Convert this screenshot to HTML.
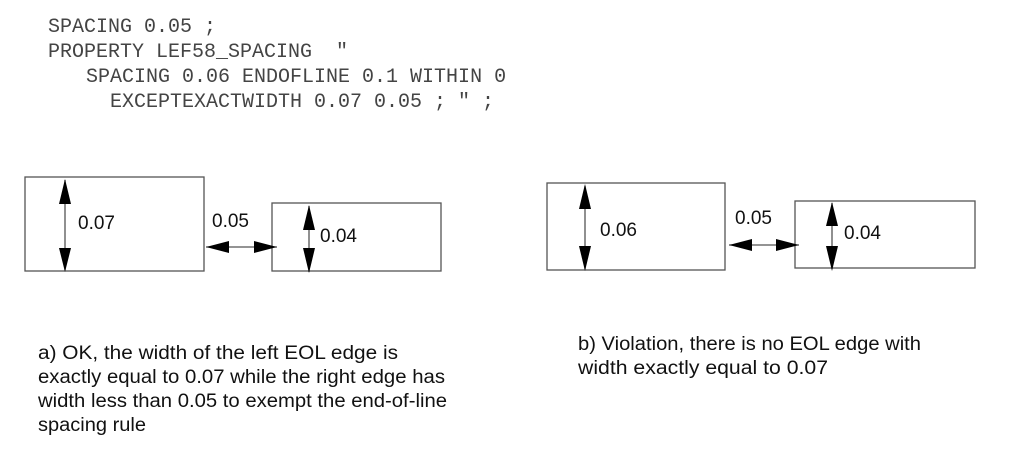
<!DOCTYPE html>
<html><head><style>body{margin:0;background:#fff}svg{display:block}</style></head>
<body>
<svg width="1013" height="470" xmlns="http://www.w3.org/2000/svg">
<g font-family="Liberation Mono, monospace" font-size="20" fill="#444">
<text x="48" y="32" xml:space="preserve">SPACING 0.05 ;</text>
<text x="48" y="57" xml:space="preserve">PROPERTY LEF58_SPACING  "</text>
<text x="86" y="82" xml:space="preserve">SPACING 0.06 ENDOFLINE 0.1 WITHIN 0</text>
<text x="110" y="107" xml:space="preserve">EXCEPTEXACTWIDTH 0.07 0.05 ; " ;</text>
</g>
<g fill="none" stroke="#555" stroke-width="1.3">
<rect x="25" y="177" width="179" height="94"/>
<rect x="272" y="203" width="169" height="68"/>
<rect x="547" y="183" width="178" height="87"/>
<rect x="795" y="201" width="180" height="67"/>
</g>
<g stroke="#555" stroke-width="1.3">
<line x1="65" y1="180" x2="65" y2="270"/>
<line x1="206" y1="247" x2="277" y2="247"/>
<line x1="309" y1="206" x2="309" y2="272"/>
<line x1="585" y1="186" x2="585" y2="269"/>
<line x1="729" y1="245" x2="799" y2="245"/>
<line x1="832" y1="203" x2="832" y2="269"/>
</g>
<g fill="#000">
<path d="M59,204L65,179L71,204z"/><path d="M59,248L65,272L71,248z"/>
<path d="M206,247L229,241L229,253z"/><path d="M277,247L254,241L254,253z"/>
<path d="M303,230L309,205L315,230z"/><path d="M303,248L309,273L315,248z"/>
<path d="M579,209L585,184L591,209z"/><path d="M579,246L585,271L591,246z"/>
<path d="M729,245L752,239L752,251z"/><path d="M799,245L776,239L776,251z"/>
<path d="M826,226L832,202L838,226z"/><path d="M826,246L832,271L838,246z"/>
</g>
<g font-family="Liberation Sans, sans-serif" font-size="19" fill="#111">
<text x="78" y="229">0.07</text>
<text x="212" y="227">0.05</text>
<text x="320" y="242">0.04</text>
<text x="600" y="236">0.06</text>
<text x="735" y="224">0.05</text>
<text x="844" y="239">0.04</text>
</g>
<g font-family="Liberation Sans, sans-serif" font-size="19" fill="#111">
<text x="38" y="359" textLength="360" lengthAdjust="spacingAndGlyphs">a) OK, the width of the left EOL edge is</text>
<text x="38" y="383" textLength="407" lengthAdjust="spacingAndGlyphs">exactly equal to 0.07 while the right edge has</text>
<text x="38" y="407" textLength="409" lengthAdjust="spacingAndGlyphs">width  less than 0.05 to exempt the end-of-line</text>
<text x="38" y="431" textLength="108" lengthAdjust="spacingAndGlyphs">spacing rule</text>
<text x="578" y="350" textLength="343" lengthAdjust="spacingAndGlyphs">b) Violation, there is no EOL edge with</text>
<text x="578" y="374" textLength="250" lengthAdjust="spacingAndGlyphs">width exactly equal to 0.07</text>
</g>
</svg>
</body></html>
